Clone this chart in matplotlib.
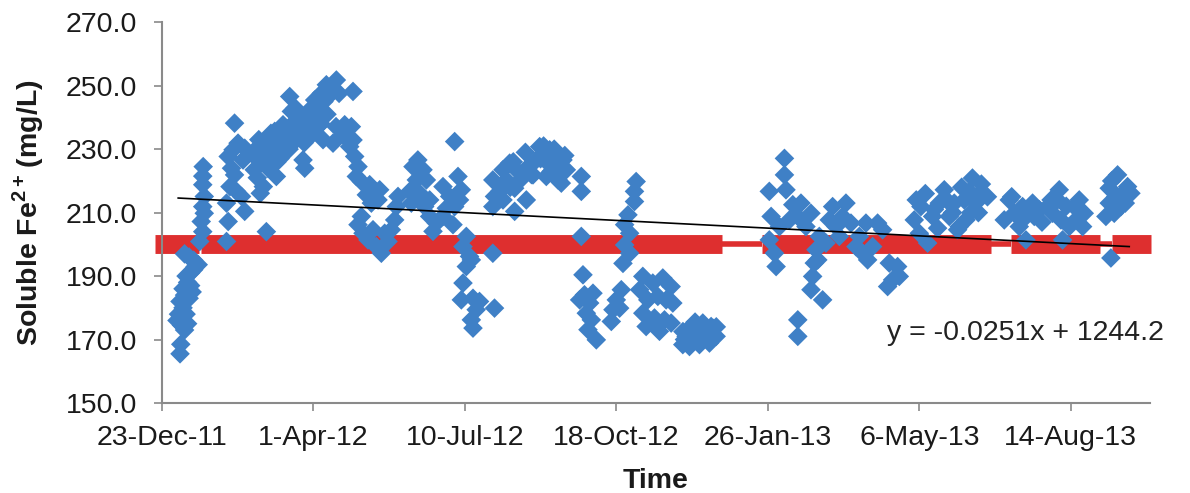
import numpy as np
import matplotlib
matplotlib.use("Agg")
import matplotlib.pyplot as plt
import matplotlib.dates as mdates
from matplotlib.ticker import FixedLocator, FuncFormatter

plt.rcParams['font.family'] = ['Liberation Sans', 'DejaVu Sans']
plt.rcParams['mathtext.fontset'] = 'custom'
plt.rcParams['mathtext.rm'] = 'Liberation Sans'
plt.rcParams['mathtext.bf'] = 'Liberation Sans:bold'

# days counted from 23-Dec-2011, soluble Fe2+ in mg/L
base_date = '2011-12-23'

days = [
    # Jan 2012 low column
    12, 12.5, 10, 13, 15, 17, 11, 14, 16, 12, 15, 18, 14, 17, 19, 16, 19, 21, 22, 15, 18, 21, 24, 20,
    # Jan 2012 rising column
    25, 27, 26, 28, 27, 28, 27, 27, 27.3,
    # Feb 2012
    42.7, 43.8, 42.7, 45, 49.3, 52.6, 54.7, 46, 47, 50.3, 54.7, 48, 43.8, 48, 53.6, 69,
    # Mar-Apr 2012 band
    61, 62.5, 65, 67, 69, 71, 73, 74.5, 76.7, 78, 80, 81, 83.3, 84.4, 85.5, 87.7, 88.8, 91,
    93.2, 94.3, 95.4, 97.6, 98.7, 100.9, 103, 105.3, 106.4, 108.6, 75.6, 67, 65,
    63, 66, 70, 72, 76, 79, 82, 86, 89, 92, 96, 99, 102, 104, 107, 110, 72, 77,
    60, 64, 68, 74, 78, 84, 88, 94, 100, 105, 109,
    # Apr-May 2012
    115.2, 112, 117, 126.2, 115, 120.7, 125.1, 119.6, 126.2, 113, 124,
    127.3, 129.5, 128.4, 131.7, 137.2, 140.5, 143.8, 135, 138.3, 142.7,
    131.7, 129.5, 132.8, 136.1, 141.6, 144.9, 149.3, 151.5, 153.7, 154.8, 155.9, 147.1, 139.4,
    # Jun 2012
    169, 165.8, 172.4, 168, 174.6, 163.6, 170.2, 176.8, 164.7, 173.5, 176.8, 181.2, 179,
    193.3, 185.6, 195.5, 197.7, 190, 196.5, 187.8, 193.3, 185.6, 192.2,
    201, 198.8, 203.1, 201, 204.3,
    198.8, 197.7, 205.4, 209.7, 207.5, 204.3, 205.4, 219.6,
    218.5, 219.6, 218.5, 218.5,
    # Jul-Sep 2012 arc
    225.2, 229.6, 227.4, 234, 225.2, 232.9, 240.6, 223, 232.9,
    249.4, 256, 261.5, 264.8, 267, 261.5, 253.8, 245, 238.4, 247.2, 258.2, 263.7,
    243, 250, 254, 259, 236, 230, 262,
    232, 240, 252, 257, 266, 244,
    276.9, 276.9, 276.9,
    278, 279, 282.4, 280.2, 283.5, 281.3, 286.8, 275.8, 284.6,
    # Oct 2012
    313.1, 312, 312, 307.7, 305.5, 308.8, 305.5, 308.8, 304.4,
    303.3, 300, 297.8, 296.7, 302.2,
    317.5, 324.1, 330.7, 315.4, 320.8, 327.4, 332.9, 317.5, 325.2, 331.8, 319.7, 328.5,
    336.2, 337.3, 336.2,
    # Dec 2012 low blob
    346.1, 351.6, 357.1, 362.6, 365.9, 354.9, 348.3, 361.5, 343.9, 347, 353, 358, 364,
    345, 350, 356, 360, 352, 344, 366,
    # Feb-Mar 2013
    411, 411, 401, 412, 402.2, 407.7, 401, 404.4, 405.5,
    416.5, 421.9, 428.5, 419.7, 425.2, 414.3,
    434, 431.8, 430.7, 429.6, 428.5, 436.2, 433,
    419.8, 419.8,
    442.8, 440.6, 445, 438.4,
    451.6, 449.4, 454.9, 447.2,
    460.4, 464.8, 472.5, 475.8, 462.6, 469.2, 465.9, 458.2,
    480.2, 485.7, 482.4, 479.1, 486.8,
    # May-Jun 2013
    496.7, 501.1, 500, 505.5, 508.8, 513.2, 516.5, 519.8, 523.1, 526.4, 529.7, 533, 535.1,
    537.3, 530.8, 525.3, 512.1, 541, 545, 539,
    498, 504, 510, 518, 522, 528, 534, 540,
    # Jul-Aug 2013
    559.4, 562.7, 566, 570.4, 568.2, 574.8, 575.9, 579.2, 584.7, 588, 592.4, 591.3, 593.5,
    594.6, 599, 602.3, 605.6, 608.9, 607.8, 556.1,
    561, 571, 581, 587, 597, 604,
    # Sep 2013
    630.9, 625.4, 637.5, 629.8, 639.7, 625.4, 633.1, 623.2, 628.7, 626.5,
    632, 636, 627,
]

fe_values = [
    165.5, 168.5, 176, 174.5, 173, 175, 178, 180, 178, 182, 184, 183, 186, 188, 187, 190, 191, 192, 193, 197, 196, 195, 193.6, 185,
    200.9, 204, 207.2, 209.8, 211.9, 215.1, 218.8, 221.5, 224.5,
    200.9, 207.2, 213, 218.2, 216.7, 215.1, 210.4, 224, 229.8, 231.9, 230.3, 238.2, 227.7, 221.9, 226.6, 204,
    223.5, 227.1, 230.8, 231.9, 229.3, 233, 226.6, 235.6, 230.8, 234, 237.7, 229.8, 236.1, 246.6, 241.9, 238.7, 233, 235,
    226.6, 224, 239.2, 242.4, 235.6, 245.5, 237.1, 247.6, 233, 250.3, 221.4, 218.2, 216.1,
    221, 226, 224, 230, 226, 231, 233, 235, 237, 240, 236, 242, 240, 244, 245, 247, 235, 236,
    229, 233, 228, 231, 227, 230, 243, 232, 235, 238, 241,
    251.8, 247.6, 247.6, 248.2, 237.1, 237.7, 237.1, 234.5, 232.9, 231.9, 230.8,
    227.7, 224.5, 221.4, 219.8, 218.8, 216.7, 217.2, 215.6, 213, 214,
    208.8, 206.2, 203.5, 201.4, 199.3, 197.2, 200.9, 204.6, 207.7, 211.9, 215.1, 203.5, 204.6,
    226.6, 224.5, 223.5, 220.3, 220.3, 216.7, 216.1, 214, 213, 211.9, 208.8, 206.7, 204.1,
    232.4, 218.2, 221.4, 217.2, 215.1, 214, 211.4, 211.9, 208.8, 206.2,
    202.5, 199.3, 196.2, 193, 195.1,
    187.8, 182.5, 183, 182, 179.4, 176.2, 173.6, 179.9,
    220.3, 215.1, 211.9, 197.2,
    223.5, 225.6, 220.3, 223.5, 214, 210.4, 214, 216.7, 217.7,
    230.8, 229.8, 228.2, 226.6, 223.5, 220.3, 221.4, 221.9, 222.4, 226.6, 225.6, 219.3,
    225, 227, 226, 230, 220, 218, 224,
    226, 229, 231, 223, 228, 222,
    221.4, 216.7, 202.5,
    190.4, 184.1, 181.5, 178.3, 176.2, 173.1, 169.9, 182.5, 184.6,
    219.8, 216.7, 213.5, 209.3, 206.2, 203.5, 199.8, 197.2, 194,
    185.7, 182.5, 179.4, 175.7, 179.9,
    189.9, 187.8, 189.4, 185.7, 182.5, 183.6, 182.5, 178.3, 176.8, 176.2, 174.1, 172.6,
    186.7, 181.5, 175.2,
    171, 174.1, 175.2, 174.1, 171, 168.4, 167.8, 168.9, 168.4, 173, 171, 172, 173.5,
    170, 169.5, 173, 170.5, 175.5, 172.5, 174,
    227.1, 221.9, 216.7, 217.2, 208.8, 205.6, 201.4, 197.2, 193,
    212.5, 213, 209.8, 208.8, 205.6, 207.7,
    202.5, 198.3, 194.1, 189.9, 185.7, 182.5, 195.1,
    176.2, 171,
    211.9, 207.7, 205.6, 200.4,
    213, 208.8, 206.7, 202.5,
    202.5, 206.7, 206.7, 204.6, 197.2, 199.3, 195.1, 199.3,
    194.1, 193, 188.8, 186.7, 189.9,
    207.7, 211.9, 203.5, 200.4, 208.8, 213, 217.2, 208.8, 213, 205.6, 214, 216.7, 220.9,
    213, 207.7, 204.6, 205.1, 219, 215, 210,
    214, 216, 211, 214, 210, 218, 210, 216,
    214, 209.8, 205.6, 201.4, 211.9, 213, 208.8, 210.9, 211.9, 209.8, 217.2, 214, 207.7,
    201.4, 205.6, 211.9, 214, 209.8, 205.6, 207.7,
    215, 209, 207, 214, 212, 208,
    221.9, 217.7, 218.2, 215.1, 216.1, 213, 211.9, 208.8, 209.8, 195.7,
    215, 213, 220,
]

# linear trend (as drawn by the spreadsheet)
trend_days = [10.8, 638.6]
trend_values = [214.6, 199.3]
trend_label = 'y = -0.0251x + 1244.2'

# 200 mg/L target, drawn as thick / thin pieces
target_value = 200
target_start = [-4.6, 26.1, 370.1, 396.4, 547.5, 560.7, 619.4, 627.3]
target_end = [24.6, 370.1, 396.4, 547.5, 560.7, 619.4, 627.3, 653.0]
target_thick = [True, True, False, True, False, True, False, True]

y_ticks = [150, 170, 190, 210, 230, 250, 270]
tick_step_days = 100

t0 = mdates.datestr2num(base_date)
x = t0 + np.array(days)

fig = plt.figure(figsize=(11.9, 4.93), dpi=100)
ax = fig.add_axes([0.136, 0.1826, 0.830, 0.7722])

for s, e, thick in zip(target_start, target_end, target_thick):
    ax.plot([t0 + s, t0 + e], [target_value, target_value], color='#de2f2f',
            lw=13.6 if thick else 4.0, solid_capstyle='butt', clip_on=False, zorder=2)

ax.scatter(x, fe_values, marker='D', s=100, color='#3f80c6', edgecolors='none', zorder=3)

ax.plot(t0 + np.array(trend_days), trend_values, color='black', lw=1.2, zorder=4)

ax.text(t0 + 479, 170, trend_label, fontsize=20.5, color='#222222', ha='left', va='baseline')

ax.set_xlim(t0, t0 + 652)
ax.set_ylim(150, 270)
ax.set_yticks(y_ticks)
ax.yaxis.set_major_formatter(FuncFormatter(lambda v, p: f'{v:.1f}'))
ax.xaxis.set_major_locator(FixedLocator(t0 + np.arange(0, 652, tick_step_days)))


def date_fmt(v, pos):
    d = mdates.num2date(v)
    return f"{d.day}-{d.strftime('%b-%y')}"


ax.xaxis.set_major_formatter(FuncFormatter(date_fmt))

for side in ['top', 'right']:
    ax.spines[side].set_visible(False)
for side in ['left', 'bottom']:
    ax.spines[side].set_color('#8a8a8a')
    ax.spines[side].set_linewidth(1.5)

ax.tick_params(axis='both', direction='out', length=6, width=1.2, color='#8a8a8a',
               labelsize=20.5, labelcolor='#1a1a1a')
ax.tick_params(axis='y', pad=12)
ax.tick_params(axis='x', pad=10)

ax.set_ylabel(r'Soluble Fe$^{\mathbf{2+}}\!$ (mg/L)', fontsize=20.5, fontweight='bold', color='#1a1a1a', labelpad=14)
ax.set_xlabel('Time', fontsize=20.5, fontweight='bold', color='#1a1a1a', labelpad=12)

fig.savefig('out.png', dpi=100)
